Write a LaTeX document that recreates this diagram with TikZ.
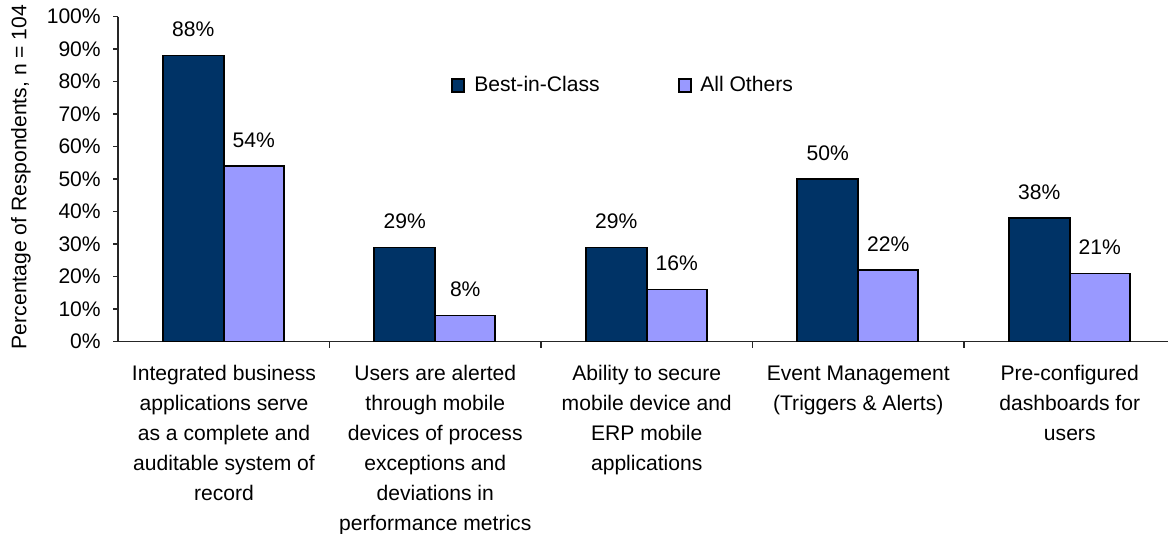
\documentclass[tikz,border=0pt]{standalone}
\usepackage{fontspec}
\setmainfont{Liberation Sans}
\definecolor{bicblue}{HTML}{003366}
\definecolor{othblue}{HTML}{9999FF}
\begin{document}
\begin{tikzpicture}[x=0.025cm,y=0.025cm,font=\fontsize{15}{21.3}\selectfont,
  bic/.style={draw=black,line width=1.1pt,fill=bicblue},
  oth/.style={draw=black,line width=1.1pt,fill=othblue},
  val/.style={anchor=base,inner sep=0pt},
  ylab/.style={anchor=east,inner sep=0pt},
  catlab/.style={anchor=base,align=center,inner sep=0pt}]
\useasboundingbox (0,0) rectangle (1168,533);

% axes
\coordinate (o) at (118,191.3);
\coordinate (ytop) at (118,516.3);
\coordinate (xend) at (1168,191.3);
\draw[line width=1.1pt,black!85] (ytop) -- (o) -- (xend);

\draw[line width=1pt,black!85] (113,191.3) -- (118,191.3);
\draw[line width=1pt,black!85] (113,223.8) -- (118,223.8);
\draw[line width=1pt,black!85] (113,256.3) -- (118,256.3);
\draw[line width=1pt,black!85] (113,288.8) -- (118,288.8);
\draw[line width=1pt,black!85] (113,321.3) -- (118,321.3);
\draw[line width=1pt,black!85] (113,353.8) -- (118,353.8);
\draw[line width=1pt,black!85] (113,386.3) -- (118,386.3);
\draw[line width=1pt,black!85] (113,418.8) -- (118,418.8);
\draw[line width=1pt,black!85] (113,451.3) -- (118,451.3);
\draw[line width=1pt,black!85] (113,483.8) -- (118,483.8);
\draw[line width=1pt,black!85] (113,516.3) -- (118,516.3);
\draw[line width=1pt,black!85] (329.5,191.3) -- (329.5,185.3);
\draw[line width=1pt,black!85] (541,191.3) -- (541,185.3);
\draw[line width=1pt,black!85] (752.5,191.3) -- (752.5,185.3);
\draw[line width=1pt,black!85] (964,191.3) -- (964,185.3);

\node[ylab] (y0) at (101,191.3) {0\%};
\node[ylab] (y10) at (101,223.8) {10\%};
\node[ylab] (y20) at (101,256.3) {20\%};
\node[ylab] (y30) at (101,288.8) {30\%};
\node[ylab] (y40) at (101,321.3) {40\%};
\node[ylab] (y50) at (101,353.8) {50\%};
\node[ylab] (y60) at (101,386.3) {60\%};
\node[ylab] (y70) at (101,418.8) {70\%};
\node[ylab] (y80) at (101,451.3) {80\%};
\node[ylab] (y90) at (101,483.8) {90\%};
\node[ylab] (y100) at (101,516.3) {100\%};
\node[rotate=90,inner sep=0pt] (ytitle) at (21,356) {Percentage of Respondents, n = 104};

% bars
\draw[bic] (162.75,191.3) rectangle (223.75,477.3);
\draw[oth] (223.75,191.3) rectangle (283.75,366.8);
\draw[bic] (374.25,191.3) rectangle (435.25,285.55);
\draw[oth] (435.25,191.3) rectangle (495.25,217.3);
\draw[bic] (585.75,191.3) rectangle (646.75,285.55);
\draw[oth] (646.75,191.3) rectangle (706.75,243.3);
\draw[bic] (797.25,191.3) rectangle (858.25,353.8);
\draw[oth] (858.25,191.3) rectangle (918.25,262.8);
\draw[bic] (1008.75,191.3) rectangle (1069.75,314.8);
\draw[oth] (1069.75,191.3) rectangle (1129.75,259.55);

\node[val] (b1) at (193.25,496.3) {88\%};
\node[val] (a1) at (253.75,385.8) {54\%};
\node[val] (b2) at (404.75,304.55) {29\%};
\node[val] (a2) at (465.25,236.3) {8\%};
\node[val] (b3) at (616.25,304.55) {29\%};
\node[val] (a3) at (676.75,262.3) {16\%};
\node[val] (b4) at (827.75,372.8) {50\%};
\node[val] (a4) at (888.25,281.8) {22\%};
\node[val] (b5) at (1039.25,333.8) {38\%};
\node[val] (a5) at (1099.75,278.55) {21\%};

% legend
\draw[line width=0.8pt,fill=bicblue] (452,441) rectangle (464,454);
\node[anchor=base west,inner sep=0pt] (lbic) at (474,441.3) {Best-in-Class};
\draw[line width=0.8pt,fill=othblue] (679,441) rectangle (691,454);
\node[anchor=base west,inner sep=0pt] (loth) at (700,441.3) {All Others};

% categories (base = last line)
\node[catlab] (c1) at (224,33) {Integrated business\\applications serve\\as a complete and\\auditable system of\\record};
\node[catlab] (c2) at (435.25,3) {Users are alerted\\through mobile\\devices of process\\exceptions and\\deviations in\\performance metrics};
\node[catlab] (c3) at (646.75,63) {Ability to secure\\mobile device and\\ERP mobile\\applications};
\node[catlab] (c4) at (858.25,123) {Event Management\\(Triggers \& Alerts)};
\node[catlab] (c5) at (1069.75,93) {Pre-configured\\dashboards for\\users};
\end{tikzpicture}
\end{document}
